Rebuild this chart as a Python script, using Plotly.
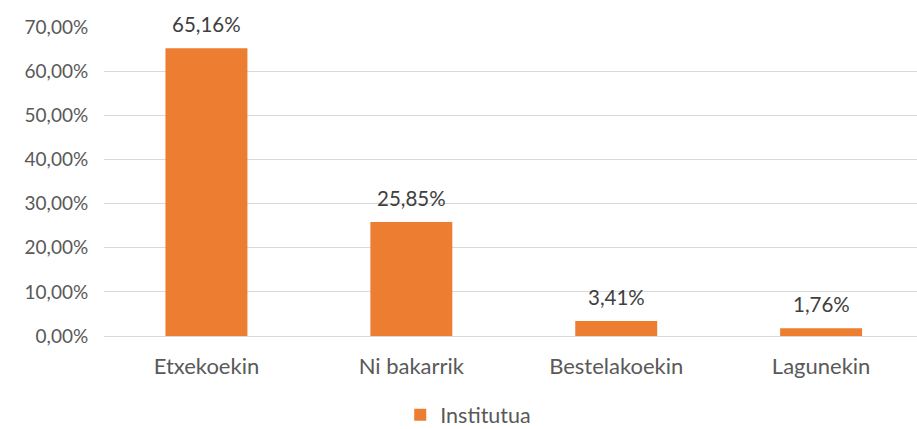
import plotly.graph_objects as go

categories = ["Etxekoekin", "Ni bakarrik", "Bestelakoekin", "Lagunekin"]
values = [0.6516, 0.2585, 0.0341, 0.0176]
series_name = "Institutua"
tick_vals = [0, 0.1, 0.2, 0.3, 0.4, 0.5, 0.6, 0.7]

FONT = "Lato, 'Open Sans', sans-serif"
GREY = "#595959"
DARK = "#404040"

fig = go.Figure()
fig.add_trace(go.Bar(
    x=categories, y=values, name=series_name,
    marker=dict(color="#ED7D31", line=dict(width=0)),
    width=0.4,
    showlegend=True,
))
for c, v in zip(categories, values):
    fig.add_annotation(
        x=c, y=v, text=f"{v*100:.2f}%".replace(".", ","),
        showarrow=False, yanchor="middle", yshift=24,
        font=dict(family=FONT, size=20.5, color=DARK),
    )
fig.update_layout(
    width=917, height=429,
    margin=dict(l=104, r=0, t=27, b=93, autoexpand=False),
    paper_bgcolor="white", plot_bgcolor="white",
    separators=",.",
    font=dict(family=FONT, size=19, color=GREY),
    showlegend=True,
    legend=dict(orientation="h", x=0.448, xanchor="center", y=-0.255, yanchor="middle",
                font=dict(family=FONT, size=21.5, color=GREY), itemwidth=30),
    xaxis=dict(range=[-0.5, 3.468], showgrid=False, showline=False, ticks="outside", ticklen=11,
               tickcolor="rgba(0,0,0,0)", tickfont=dict(family=FONT, size=22, color=GREY),
               automargin=False),
    yaxis=dict(range=[0, 0.7], tickvals=tick_vals, tickformat=".2%",
               showgrid=True, gridcolor="#D9D9D9", gridwidth=1,
               zeroline=True, zerolinecolor="#D9D9D9", zerolinewidth=1,
               ticks="outside", ticklen=11, tickcolor="rgba(0,0,0,0)",
               tickfont=dict(family=FONT, size=19, color=GREY), automargin=False),
)
fig.write_html("out.html", config={"displayModeBar": False},
               post_script="document.body.style.margin='0';document.body.style.overflow='hidden';")
